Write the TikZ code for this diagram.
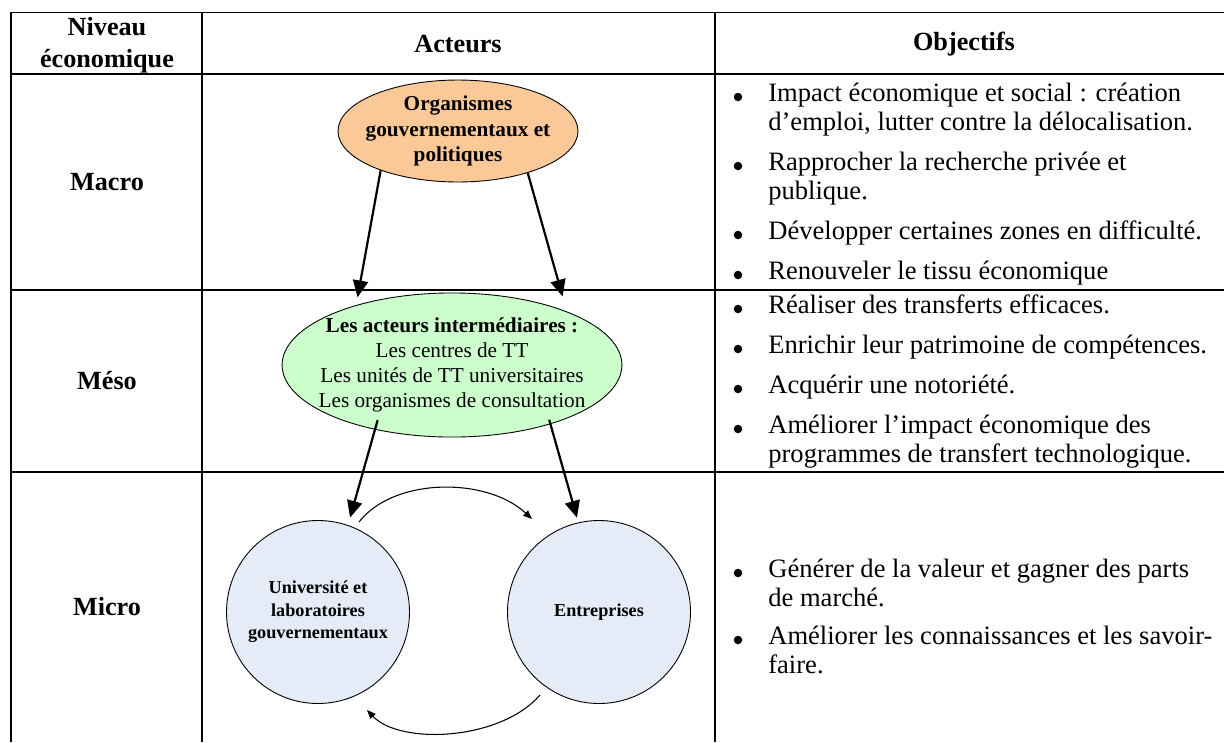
\documentclass[tikz,border=0pt]{standalone}
\usepackage{fontspec}
\setmainfont{Liberation Serif}
\usetikzlibrary{shapes.geometric,arrows.meta,calc}

\definecolor{orgfill}{RGB}{251,201,152}
\definecolor{interfill}{RGB}{204,255,204}
\definecolor{microfill}{RGB}{229,235,247}

\tikzset{
  tableline/.style={line width=1.1pt},
  head/.style={font=\fontsize{14.8}{18}\selectfont\bfseries,align=center,inner sep=0pt},
  body/.style={font=\fontsize{15}{17}\selectfont,inner sep=0pt,anchor=mid west},
  puce/.style={circle,fill=black,inner sep=0pt,minimum size=4.8pt},
  orgbox/.style={ellipse,draw,line width=0.5pt,fill=orgfill,minimum width=135.6pt,minimum height=57.6pt,inner sep=0pt},
  interbox/.style={ellipse,draw,line width=0.5pt,fill=interfill,minimum width=192pt,minimum height=81.4pt,inner sep=0pt},
  microbox/.style={circle,draw,line width=0.5pt,fill=microfill,minimum size=103.4pt,inner sep=0pt},
  bigarrow/.style={-{Triangle[length=9.5pt,width=8.5pt]},line width=1.25pt},
  smallarrow/.style={-{Triangle[length=5pt,width=4pt]},line width=0.6pt}
}

\begin{document}
\begin{tikzpicture}[x=0.565pt,y=-0.565pt]
    \useasboundingbox (0,0) rectangle (1224,742);

    % table
    \draw[tableline] (11,742) -- (11,12.5) -- (1224,12.5);
    \draw[tableline] (11,74) -- (1224,74);
    \draw[tableline] (11,290) -- (1224,290);
    \draw[tableline] (11,472) -- (1224,472);
    \draw[tableline] (202,12.5) -- (202,742);
    \draw[tableline] (715,12.5) -- (715,742);

    % headers
    \node[head] (hniv) at (107,45) {Niveau\\économique};
    \node[head] (hact) at (458,44) {Acteurs};
    \node[head] (hobj) at (964,44) {Objectifs};
    \node[head] (macro) at (107,182) {Macro};
    \node[head] (meso) at (107,381) {Méso};
    \node[head] (micro) at (107,607) {Micro};

    % acteurs
    \node[orgbox] (org) at (458,131) {};
    \node[font=\fontsize{12}{14.4}\selectfont\bfseries,align=center] (orgt) at (org) {Organismes\\gouvernementaux et\\politiques};
    \node[interbox] (inter) at (452,365) {};
    \node[font=\fontsize{12}{14}\selectfont,align=center] (intert) at (inter) {\textbf{Les acteurs intermédiaires :}\\Les centres de TT\\Les unités de TT universitaires\\Les organismes de consultation};
    \node[microbox] (uni) at (318,612) {};
    \node[font=\fontsize{10.3}{12.7}\selectfont\bfseries,align=center] (unit) at (uni) {Université et\\laboratoires\\gouvernementaux};
    \node[microbox] (ent) at (599,612) {};
    \node[font=\fontsize{10.3}{12.7}\selectfont\bfseries] (entt) at (ent) {Entreprises};

    \draw[bigarrow,shorten >=4.5pt] (org.207) -- (inter.148);
    \draw[bigarrow,shorten >=8.8pt] (org.329) -- (inter.25);
    \draw[bigarrow,shorten <=-5.6pt,shorten >=4.4pt] (inter.220) -- (uni.71);
    \draw[bigarrow,shorten <=-2.6pt,shorten >=2.8pt] (inter.329) -- (ent.103);
    \draw[smallarrow] ($(uni)+(41,-90)$) .. controls ($(uni)+(76,-135)$) and ($(ent)+(-112,-135)$) .. ($(ent)+(-67,-93)$);
    \draw[smallarrow] ($(ent)+(-59,83)$) .. controls ($(ent)+(-99,129)$) and ($(uni)+(82,133)$) .. ($(uni)+(49,98)$);

    % objectifs macro
    \node[puce] (p1) at (738,97) {};
    \node[body] (o1a) at (768,97) {Impact économique et social : création};
    \node[body] (o1b) at (768,126) {d’emploi, lutter contre la délocalisation.};
    \node[puce] (p2) at (738,166) {};
    \node[body] (o2a) at (768,166) {Rapprocher la recherche privée et};
    \node[body] (o2b) at (768,195) {publique.};
    \node[puce] (p3) at (738,235) {};
    \node[body] (o3) at (768,235) {Développer certaines zones en difficulté.};
    \node[puce] (p4) at (738,275) {};
    \node[body] (o4) at (768,275) {Renouveler le tissu économique};

    % objectifs meso
    \node[puce] (p5) at (738,309) {};
    \node[body] (o5) at (768,309) {Réaliser des transferts efficaces.};
    \node[puce] (p6) at (738,349) {};
    \node[body] (o6) at (768,349) {Enrichir leur patrimoine de compétences.};
    \node[puce] (p7) at (738,389) {};
    \node[body] (o7) at (768,389) {Acquérir une notoriété.};
    \node[puce] (p8) at (738,429) {};
    \node[body] (o8a) at (768,429) {Améliorer l’impact économique des};
    \node[body] (o8b) at (768,458) {programmes de transfert technologique.};

    % objectifs micro
    \node[puce] (p9) at (738,573) {};
    \node[body] (o9a) at (768,573) {Générer de la valeur et gagner des parts};
    \node[body] (o9b) at (768,602) {de marché.};
    \node[puce] (p10) at (738,640) {};
    \node[body] (o10a) at (768,640) {Améliorer les connaissances et les savoir-};
    \node[body] (o10b) at (768,669) {faire.};
\end{tikzpicture}
\end{document}
